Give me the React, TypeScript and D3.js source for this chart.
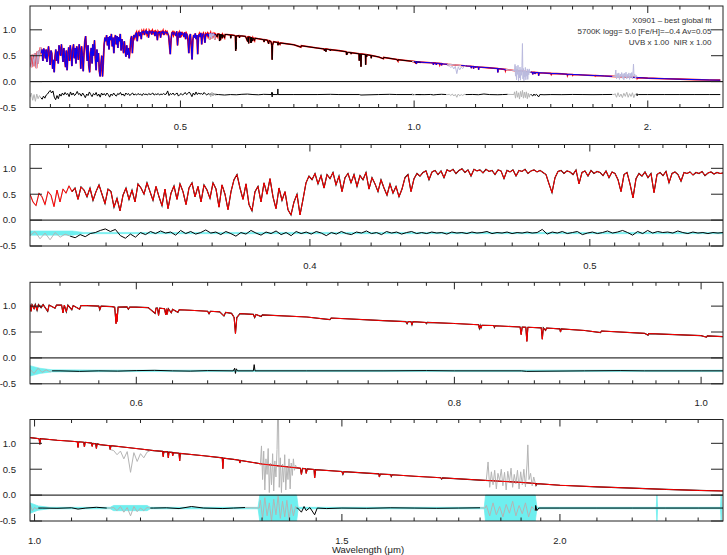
import React from 'react';
import * as d3 from 'd3';

const W = 727;
const H = 555;
const LEFT = 30;
const RIGHT = 723;
const PANEL_TOPS = [6, 144.5, 282.3, 419.5];
const PANEL_H = 101.5;
const Y_DOMAIN = [-0.5, 1.46];
const Y_TICKS = [1.0, 0.5, 0.0, -0.5];
const Y_LABELS = ['1.0', '0.5', '0.0', '-0.5'];
const RESID_ZERO = -0.25;
const FONT = 'Liberation Sans, Arial, Helvetica, sans-serif';

const RED = '#ff0000';
const BLUE = '#0000ff';
const GRAY = '#b4b4b4';
const LAVENDER = '#babade';
const CYAN = '#6eefef';

// x axes of the four panels
const p1Domain = [0.32, 2.5];
const p1Major = [0.5, 1.0, 2.0];
const p1Labels = ['0.5', '1.0', '2.'];
const p1Minor = [0.34, 0.36, 0.38, 0.40, 0.42, 0.44, 0.46, 0.48, 0.55, 0.6, 0.65, 0.7, 0.75, 0.8, 0.85, 0.9, 0.95,
  1.1, 1.2, 1.3, 1.4, 1.5, 1.6, 1.7, 1.8, 1.9, 2.2, 2.4];

const p2Domain = [0.32, 0.556];
const p2Major = [0.4, 0.5];
const p2Labels = ['0.4', '0.5'];
const p2Minor = [0.33, 0.34, 0.35, 0.36, 0.37, 0.38, 0.39, 0.41, 0.42, 0.43, 0.44, 0.45, 0.46, 0.47, 0.48, 0.49,
  0.51, 0.52, 0.53, 0.54, 0.55];

const p3Domain = [0.545, 1.02];
const p3Major = [0.6, 0.8, 1.0];
const p3Labels = ['0.6', '0.8', '1.0'];
const p3Minor = [0.56, 0.58, 0.62, 0.64, 0.66, 0.68, 0.70, 0.72, 0.74, 0.76, 0.78, 0.82, 0.84, 0.86, 0.88, 0.90,
  0.92, 0.94, 0.96, 0.98];

const p4Domain = [0.994, 2.48];
const p4Major = [1.0, 1.5, 2.0];
const p4Labels = ['1.0', '1.5', '2.0'];
const p4Minor = [1.05, 1.1, 1.15, 1.2, 1.25, 1.3, 1.35, 1.4, 1.45, 1.55, 1.6, 1.65, 1.7, 1.75, 1.8, 1.85, 1.9, 1.95,
  2.1, 2.2, 2.3, 2.4];

// UVB arm: fluxes on an even log grid from 0.32 to 0.556 um
const uvbRange = [0.32, 0.556];
const uvbFlux = [
  0.50, 0.35, 0.28, 0.52, 0.45, 0.30, 0.55, 0.48, 0.26, 0.58,
  0.35, 0.60, 0.52, 0.66, 0.55, 0.62, 0.40, 0.64, 0.58, 0.45,
  0.62, 0.38, 0.55, 0.68, 0.50, 0.32, 0.60, 0.55, 0.25, 0.42,
  0.18, 0.48, 0.62, 0.40, 0.58, 0.35, 0.70, 0.62, 0.50, 0.72,
  0.55, 0.38, 0.65, 0.45, 0.28, 0.60, 0.22, 0.52, 0.66, 0.40,
  0.70, 0.55, 0.30, 0.62, 0.72, 0.45, 0.65, 0.35, 0.68, 0.58,
  0.42, 0.72, 0.60, 0.25, 0.68, 0.50, 0.20, 0.55, 0.78, 0.88,
  0.62, 0.40, 0.70, 0.30, 0.18, 0.55, 0.65, 0.35, 0.72, 0.50,
  0.80, 0.45, 0.22, 0.62, 0.38, 0.55, 0.20, 0.10, 0.35, 0.50,
  0.10, 0.40, 0.72, 0.85, 0.78, 0.90, 0.70, 0.86, 0.62, 0.88,
  0.80, 0.92, 0.68, 0.85, 0.55, 0.82, 0.90, 0.72, 0.88, 0.65,
  0.86, 0.78, 0.92, 0.60, 0.82, 0.70, 0.55, 0.78, 0.62, 0.48,
  0.70, 0.52, 0.65, 0.45, 0.60, 0.82, 0.88, 0.55, 0.80, 0.90,
  0.85, 0.92, 0.95, 0.78, 0.93, 0.96, 0.88, 0.95, 0.82, 0.97,
  0.94, 0.98, 0.90, 0.96, 0.99, 0.92, 0.97, 0.85, 0.98, 0.95,
  0.97, 0.91, 0.98, 0.94, 0.96, 0.88, 0.97, 0.95, 0.80, 0.96,
  0.93, 0.97, 0.85, 0.96, 0.94, 0.98, 0.90, 0.95, 0.97, 0.93,
  0.96, 0.92, 0.88, 0.70, 0.53, 0.82, 0.94, 0.96, 0.90, 0.95,
  0.93, 0.88, 0.97, 0.70, 0.92, 0.95, 0.85, 0.96, 0.90, 0.94,
  0.92, 0.86, 0.95, 0.82, 0.93, 0.90, 0.78, 0.55, 0.88, 0.92,
  0.70, 0.43, 0.80, 0.90, 0.85, 0.93, 0.82, 0.90, 0.53, 0.88,
  0.92, 0.86, 0.94, 0.72, 0.90, 0.93, 0.88, 0.75, 0.92, 0.90,
  0.93, 0.87, 0.92, 0.90, 0.94, 0.86, 0.91, 0.93, 0.89, 0.92,
  0.90, 0.91,
];
const uvbResid = [
  -0.30, -0.22, -0.36, -0.25, -0.38, -0.24, -0.33, -0.27,
  -0.31, -0.34, -0.28, -0.32, -0.26, -0.24, -0.20, -0.17, -0.22, -0.18,
  -0.30, -0.35, -0.27, -0.33, -0.24, -0.28, -0.22, -0.26, -0.21, -0.25,
  -0.23, -0.29, -0.20, -0.26, -0.22, -0.27, -0.24, -0.19, -0.25, -0.23,
  -0.28, -0.22, -0.26, -0.31, -0.24, -0.27, -0.20, -0.25, -0.29, -0.23,
  -0.26, -0.21, -0.28, -0.24, -0.30, -0.22, -0.26, -0.23, -0.27, -0.22,
  -0.25, -0.30, -0.24, -0.27, -0.22, -0.26, -0.28, -0.23, -0.25, -0.21,
  -0.26, -0.24, -0.28, -0.22, -0.25, -0.23, -0.27, -0.24, -0.22, -0.26,
  -0.24, -0.26, -0.23, -0.25, -0.24, -0.27, -0.23, -0.25, -0.24, -0.26,
  -0.23, -0.25, -0.24, -0.22, -0.26, -0.24, -0.25, -0.23, -0.26, -0.24,
  -0.25, -0.23, -0.25, -0.24, -0.18, -0.27, -0.23, -0.25, -0.22, -0.26,
  -0.24, -0.22, -0.28, -0.25, -0.23, -0.26, -0.24, -0.21, -0.25, -0.23,
  -0.20, -0.24, -0.29, -0.22, -0.26, -0.20, -0.25, -0.22, -0.24, -0.23,
  -0.25, -0.21, -0.24, -0.26, -0.23, -0.25, -0.24, -0.26, -0.24, -0.25, -0.24,
];
const uvbMask = [[0.32, 0.331]];
const uvbErr = [[0.32, 0.04], [0.331, 0.04], [0.334, 0.012], [0.556, 0.012]];

// VIS arm: [wavelength um, flux]
const visSpec = [
  [0.5450, 1.03], [0.5455, 0.90], [0.5460, 1.03], [0.5470, 0.95], [0.5476, 1.03], [0.5485, 0.92], [0.5492, 1.03],
  [0.5505, 0.97], [0.5515, 1.03], [0.5538, 0.90], [0.5545, 1.02], [0.5575, 0.96], [0.5582, 1.02], [0.5608, 1.02],
  [0.5615, 0.87], [0.5622, 1.02], [0.5632, 0.89], [0.5640, 1.02], [0.5660, 0.93], [0.5667, 1.01], [0.5700, 0.94],
  [0.5707, 1.01], [0.5740, 1.01], [0.5800, 1.00], [0.5805, 0.93], [0.5812, 1.00], [0.5870, 0.99], [0.5884, 0.98],
  [0.5891, 0.66], [0.5894, 0.85], [0.5896, 0.70], [0.5902, 0.98], [0.5950, 0.985], [0.5957, 0.94], [0.5964, 0.98],
  [0.6000, 0.98], [0.6065, 0.97], [0.6103, 0.86], [0.6108, 0.96], [0.6116, 0.96], [0.6122, 0.82], [0.6128, 0.96],
  [0.6155, 0.95], [0.6162, 0.83], [0.6166, 0.95], [0.6170, 0.84], [0.6176, 0.95], [0.6193, 0.87], [0.6200, 0.94],
  [0.6230, 0.88], [0.6237, 0.93], [0.6300, 0.92], [0.6400, 0.90], [0.6408, 0.85], [0.6416, 0.90], [0.6470, 0.89],
  [0.6495, 0.81], [0.6505, 0.88], [0.6540, 0.86], [0.6555, 0.78], [0.6563, 0.47], [0.6571, 0.78], [0.6590, 0.855],
  [0.6670, 0.84], [0.6678, 0.78], [0.6686, 0.84], [0.6717, 0.80], [0.6725, 0.83], [0.7000, 0.79], [0.7148, 0.74],
  [0.7156, 0.77], [0.7500, 0.72], [0.7657, 0.70], [0.7665, 0.66], [0.7672, 0.70], [0.7692, 0.70], [0.7699, 0.64],
  [0.7706, 0.70], [0.7795, 0.685], [0.7800, 0.66], [0.7806, 0.685], [0.8000, 0.665], [0.8176, 0.64], [0.8183, 0.57],
  [0.8189, 0.63], [0.8195, 0.58], [0.8202, 0.63], [0.8290, 0.625], [0.8295, 0.59], [0.8300, 0.62], [0.8490, 0.597],
  [0.8498, 0.45], [0.8506, 0.595], [0.8534, 0.593], [0.8542, 0.32], [0.8550, 0.592], [0.8654, 0.58], [0.8662, 0.36],
  [0.8670, 0.58], [0.8688, 0.53], [0.8695, 0.577], [0.8800, 0.56], [0.8806, 0.50], [0.8812, 0.56], [0.9000, 0.53],
  [0.9131, 0.49], [0.9138, 0.52], [0.9500, 0.475], [0.9532, 0.44], [0.9538, 0.47], [1.0000, 0.43], [1.0049, 0.40],
  [1.0056, 0.425], [1.0200, 0.41],
];
const visResid = [
  [0.545, -0.22], [0.547, -0.30], [0.549, -0.20], [0.551, -0.28], [0.553, -0.23], [0.555, -0.27], [0.556, -0.25],
  [0.56, -0.25], [0.57, -0.26], [0.58, -0.25], [0.59, -0.255], [0.60, -0.245], [0.61, -0.24], [0.62, -0.25],
  [0.63, -0.255], [0.64, -0.245], [0.655, -0.25], [0.6558, -0.20], [0.6563, -0.30], [0.6568, -0.21], [0.6575, -0.25],
  [0.667, -0.25], [0.6675, -0.13], [0.668, -0.25], [0.70, -0.25], [0.75, -0.25], [0.78, -0.245], [0.80, -0.25],
  [0.85, -0.25], [0.854, -0.26], [0.90, -0.25], [0.93, -0.245], [0.95, -0.25], [1.0, -0.25], [1.02, -0.25],
];
const visMask = [[0.545, 0.556]];
const visErr = [[0.545, 0.10], [0.55, 0.05], [0.556, 0.02], [0.6, 0.014], [1.02, 0.014]];

// NIR arm: [wavelength um, flux]
const nirSpec = [
  [0.994, 1.11], [1.0, 1.10], [1.006, 1.09], [1.007, 0.98], [1.008, 1.09], [1.03, 1.06], [1.05, 1.04], [1.058, 1.03],
  [1.059, 0.92], [1.060, 1.03], [1.067, 1.02], [1.068, 0.93], [1.069, 1.02], [1.078, 1.005], [1.079, 0.94],
  [1.080, 1.0], [1.084, 0.99], [1.085, 0.90], [1.086, 0.99], [1.09, 0.975], [1.104, 0.955], [1.105, 0.88],
  [1.106, 0.955], [1.13, 0.92], [1.15, 0.89], [1.17, 0.86], [1.184, 0.845], [1.185, 0.74], [1.186, 0.84],
  [1.192, 0.835], [1.193, 0.72], [1.194, 0.83], [1.199, 0.825], [1.2, 0.76], [1.201, 0.82], [1.210, 0.81],
  [1.211, 0.66], [1.212, 0.805], [1.25, 0.76], [1.281, 0.72], [1.282, 0.51], [1.283, 0.715], [1.3, 0.69],
  [1.310, 0.675], [1.311, 0.62], [1.312, 0.67], [1.35, 0.60], [1.4, 0.54], [1.42, 0.52], [1.422, 0.40],
  [1.424, 0.515], [1.430, 0.51], [1.431, 0.42], [1.433, 0.505], [1.446, 0.495], [1.447, 0.33], [1.449, 0.49],
  [1.5, 0.455], [1.502, 0.40], [1.504, 0.453], [1.55, 0.425], [1.575, 0.41], [1.576, 0.35], [1.578, 0.408],
  [1.6, 0.395], [1.601, 0.36], [1.603, 0.393], [1.65, 0.365], [1.7, 0.34], [1.709, 0.335], [1.711, 0.31],
  [1.713, 0.333], [1.76, 0.31], [1.8, 0.29], [1.9, 0.245], [1.937, 0.225], [1.938, 0.19], [1.940, 0.222],
  [2.0, 0.19], [2.1, 0.16], [2.2, 0.135], [2.3, 0.11], [2.4, 0.09], [2.48, 0.08],
];
// telluric windows, masked from the fit
const nirTelluricJ = [
  [1.105, 0.88], [1.11, 0.86], [1.115, 0.78], [1.12, 0.85], [1.125, 0.70], [1.13, 0.84], [1.135, 0.44], [1.14, 0.82],
  [1.145, 0.65], [1.15, 0.80], [1.155, 0.72], [1.16, 0.83], [1.165, 0.86],
];
const nirTelluricH2O = [
  [1.345, 0.60], [1.347, 0.58], [1.349, 0.95], [1.351, 0.30], [1.353, 0.85], [1.355, 0.10], [1.357, 0.70],
  [1.359, 0.40], [1.361, 0.90], [1.363, 0.05], [1.365, 0.62], [1.367, 0.20], [1.369, 0.80], [1.371, 0.08],
  [1.373, 0.66], [1.375, 0.35], [1.377, 0.88], [1.379, 2.10], [1.381, 0.15], [1.383, 0.72], [1.385, 0.05],
  [1.387, 0.60], [1.389, 0.25], [1.391, 0.78], [1.393, 0.10], [1.395, 0.55], [1.397, 0.30], [1.399, 0.70],
  [1.401, 0.12], [1.403, 0.62], [1.405, 0.38], [1.407, 0.70], [1.409, 0.48], [1.411, 0.58], [1.413, 0.53],
];
const nirTelluricK = [
  [1.812, 0.28], [1.815, 0.30], [1.819, 0.64], [1.823, 0.15], [1.827, 0.45], [1.831, 0.20], [1.835, 0.48],
  [1.839, 0.12], [1.843, 0.42], [1.847, 0.28], [1.851, 0.50], [1.855, 0.18], [1.859, 0.44], [1.863, 0.10],
  [1.867, 0.46], [1.871, 0.25], [1.875, 0.52], [1.879, 0.15], [1.883, 0.40], [1.887, 0.22], [1.891, 0.48],
  [1.895, 0.12], [1.899, 0.45], [1.903, 0.20], [1.907, 0.50], [1.911, 0.16], [1.915, 0.60], [1.917, 0.97],
  [1.920, 0.30], [1.924, 0.42], [1.928, 0.18], [1.932, 0.35], [1.936, 0.23],
];
const nirResid = [
  [0.994, -0.18], [0.997, -0.30], [1.0, -0.24], [1.003, -0.27], [1.005, -0.25],
  [1.01, -0.25], [1.03, -0.255], [1.05, -0.245], [1.059, -0.27], [1.07, -0.25], [1.085, -0.235], [1.10, -0.25],
  [1.105, -0.25], [1.11, -0.24], [1.115, -0.30], [1.12, -0.22], [1.125, -0.33], [1.13, -0.24], [1.135, -0.40],
  [1.14, -0.22], [1.145, -0.32], [1.15, -0.25], [1.155, -0.30], [1.16, -0.24], [1.165, -0.25],
  [1.17, -0.25], [1.19, -0.245], [1.21, -0.26], [1.23, -0.22], [1.25, -0.25], [1.282, -0.26], [1.30, -0.25],
  [1.32, -0.24], [1.345, -0.25],
  [1.347, -0.10], [1.351, -0.45], [1.355, -0.05], [1.359, -0.40], [1.363, -0.15], [1.367, -0.50], [1.371, -0.08],
  [1.375, -0.38], [1.379, -0.02], [1.383, -0.45], [1.387, -0.12], [1.391, -0.42], [1.395, -0.10], [1.399, -0.48],
  [1.403, -0.18], [1.407, -0.40], [1.411, -0.22], [1.413, -0.25],
  [1.415, -0.25], [1.422, -0.33], [1.427, -0.22], [1.431, -0.30], [1.438, -0.24], [1.447, -0.38], [1.452, -0.25],
  [1.47, -0.26], [1.50, -0.25], [1.55, -0.255], [1.60, -0.245], [1.65, -0.25], [1.70, -0.255], [1.75, -0.25],
  [1.80, -0.245], [1.812, -0.25],
  [1.815, -0.20], [1.823, -0.40], [1.831, -0.15], [1.839, -0.38], [1.847, -0.22], [1.855, -0.42], [1.863, -0.18],
  [1.871, -0.35], [1.879, -0.12], [1.887, -0.40], [1.895, -0.20], [1.903, -0.36], [1.911, -0.15], [1.919, -0.42],
  [1.927, -0.22], [1.936, -0.30],
  [1.937, -0.20], [1.94, -0.30], [1.945, -0.25], [2.0, -0.25], [2.1, -0.25], [2.2, -0.25], [2.3, -0.25],
  [2.4, -0.25], [2.48, -0.25],
];
const nirMask = [[0.994, 1.005], [1.105, 1.165], [1.345, 1.413], [1.812, 1.936]];
const nirErr = [
  [0.994, 0.10], [1.005, 0.04], [1.02, 0.014], [1.105, 0.014], [1.11, 0.05], [1.16, 0.05], [1.165, 0.014],
  [1.343, 0.014], [1.346, 0.25], [1.413, 0.25], [1.416, 0.014], [1.81, 0.014], [1.813, 0.25], [1.936, 0.25],
  [1.94, 0.014], [2.271, 0.014], [2.273, 0.25], [2.275, 0.014], [2.472, 0.014], [2.474, 0.25], [2.476, 0.014],
  [2.48, 0.014],
];

// scale of each arm in the overview panel
const uvbNorm = 1.0;
const visNorm = 0.9;
const nirNorm = 0.35;

const annotation = ['X0901 \u2013 best global fit', '5700K logg= 5.0 [Fe/H]=\u20130.4 Av=0.05', 'UVB x 1.00  NIR x 1.00'];

const logGrid = (range, n) => d3.range(n).map(i => range[0] * Math.pow(range[1] / range[0], i / (n - 1)));
const uvbWave = logGrid(uvbRange, uvbFlux.length);
const uvbResidWave = logGrid(uvbRange, uvbResid.length);
const uvbSpec = uvbFlux.map((f, i) => [uvbWave[i], f]);
const uvbResidPts = uvbResid.map((r, i) => [uvbResidWave[i], r]);

const scaleFlux = (pts, k) => pts.map(([w, f]) => [w, f * k]);
const scaleResid = (pts, k) => pts.map(([w, r]) => [w, RESID_ZERO + (r - RESID_ZERO) * k]);

function runs(pts, masks) {
  const inMask = w => masks.some(([a, b]) => w >= a && w <= b);
  const out = [];
  let cur = null;
  pts.forEach(p => {
    const m = inMask(p[0]);
    if (!cur || cur.masked !== m) {
      const prev = cur ? cur.pts[cur.pts.length - 1] : null;
      cur = { masked: m, pts: prev ? [prev] : [] };
      out.push(cur);
    }
    cur.pts.push(p);
  });
  return out;
}

const Panel = ({ idx, domain, major, labels, minor, children }) => {
  const top = PANEL_TOPS[idx];
  const bottom = top + PANEL_H;
  const x = d3.scaleLog().domain(domain).range([LEFT, RIGHT]);
  const y = d3.scaleLinear().domain(Y_DOMAIN).range([bottom, top]);
  const line = d3.line().x(d => x(d[0])).y(d => y(d[1]));
  const band = d3.area().x(d => x(d[0])).y0(d => y(RESID_ZERO - d[1])).y1(d => y(RESID_ZERO + d[1]));
  const clipId = `clip${idx}`;
  const draw = { x, y, line, band };
  return (
    <g>
      <defs>
        <clipPath id={clipId}>
          <rect x={LEFT} y={top} width={RIGHT - LEFT} height={PANEL_H} />
        </clipPath>
      </defs>
      <g clipPath={`url(#${clipId})`}>{children(draw)}</g>
      <line x1={LEFT} x2={RIGHT} y1={y(0)} y2={y(0)} stroke="#000" strokeWidth={1} />
      <rect x={LEFT} y={top} width={RIGHT - LEFT} height={PANEL_H} fill="none" stroke="#222" strokeWidth={1} />
      {minor.map(t => (
        <g key={'m' + t}>
          <line x1={x(t)} x2={x(t)} y1={bottom} y2={bottom - 3.5} stroke="#222" />
          <line x1={x(t)} x2={x(t)} y1={top} y2={top + 3.5} stroke="#222" />
        </g>
      ))}
      {major.map((t, i) => (
        <g key={'M' + t}>
          <line x1={x(t)} x2={x(t)} y1={bottom} y2={bottom - 7} stroke="#222" />
          <line x1={x(t)} x2={x(t)} y1={top} y2={top + 7} stroke="#222" />
          <text x={x(t)} y={bottom + 22.5} textAnchor="middle" fontSize={9.5} fontFamily={FONT} fill="#222">
            {labels[i]}
          </text>
        </g>
      ))}
      {Y_TICKS.map((t, i) => (
        <g key={'y' + t}>
          <line x1={LEFT} x2={LEFT + 12} y1={y(t)} y2={y(t)} stroke="#222" />
          <line x1={RIGHT - 12} x2={RIGHT} y1={y(t)} y2={y(t)} stroke="#222" />
          <text x={16} y={y(t) + 3.3} textAnchor="end" fontSize={9.5} fontFamily={FONT} fill="#222">
            {Y_LABELS[i]}
          </text>
        </g>
      ))}
    </g>
  );
};

const ResidRuns = ({ line, pts, mask, color = '#000', maskColor = GRAY, width = 1 }) => (
  <g>
    {runs(pts, mask).map((r, i) => (
      <path key={i} d={line(r.pts)} fill="none" stroke={r.masked ? maskColor : color} strokeWidth={width} />
    ))}
  </g>
);

const App = () => {
  return (
    <svg width={W} height={H} style={{ position: 'absolute', left: 0, top: 0, background: '#fff' }}>
      <rect width={W} height={H} fill="#fff" />

      <Panel idx={0} domain={p1Domain} major={p1Major} labels={p1Labels} minor={p1Minor}>
        {({ line }) => (
          <g>
            <ResidRuns line={line} pts={scaleResid(uvbResidPts, uvbNorm)} mask={uvbMask} />
            <ResidRuns line={line} pts={scaleResid(visResid, visNorm)} mask={visMask} />
            <ResidRuns line={line} pts={scaleResid(nirResid, nirNorm)} mask={nirMask} />
            <path d={line(scaleFlux(uvbSpec, uvbNorm))} fill="none" stroke={RED} strokeWidth={1.8} />
            <path d={line(scaleFlux(visSpec, visNorm))} fill="none" stroke={RED} strokeWidth={1.6} />
            <path d={line(scaleFlux(nirSpec, nirNorm))} fill="none" stroke={RED} strokeWidth={1.6} />
            <ResidRuns line={line} pts={scaleFlux(uvbSpec, uvbNorm)} mask={uvbMask} color={BLUE} maskColor={LAVENDER} />
            <ResidRuns line={line} pts={scaleFlux(visSpec, visNorm)} mask={visMask} color="#000" maskColor={LAVENDER} />
            <ResidRuns line={line} pts={scaleFlux(nirSpec, nirNorm)} mask={nirMask} color={BLUE} maskColor={LAVENDER} />
            {[nirTelluricJ, nirTelluricH2O, nirTelluricK].map((seg, i) => (
              <path key={i} d={line(scaleFlux(seg, nirNorm))} fill="none" stroke={LAVENDER} strokeWidth={1} />
            ))}
          </g>
        )}
      </Panel>
      <g fontFamily={FONT} fontSize={8} fill="#333" textAnchor="end">
        {annotation.map((s, i) => (
          <text key={i} x={711.5} y={23 + i * 11} style={{ whiteSpace: 'pre' }}>{s}</text>
        ))}
      </g>

      <Panel idx={1} domain={p2Domain} major={p2Major} labels={p2Labels} minor={p2Minor}>
        {({ line, band }) => (
          <g>
            <path d={band(uvbErr)} fill={CYAN} stroke={CYAN} strokeWidth={0.6} />
            <ResidRuns line={line} pts={uvbResidPts} mask={uvbMask} />
            <ResidRuns line={line} pts={uvbSpec} mask={uvbMask} width={1.15} />
            <path d={line(uvbSpec)} fill="none" stroke={RED} strokeWidth={1} />
          </g>
        )}
      </Panel>

      <Panel idx={2} domain={p3Domain} major={p3Major} labels={p3Labels} minor={p3Minor}>
        {({ line, band }) => (
          <g>
            <path d={band(visErr)} fill={CYAN} stroke={CYAN} strokeWidth={0.6} />
            <ResidRuns line={line} pts={visResid} mask={visMask} />
            <path d={line(visSpec)} fill="none" stroke="#000" strokeWidth={1.15} />
            <path d={line(visSpec)} fill="none" stroke={RED} strokeWidth={1} />
          </g>
        )}
      </Panel>

      <Panel idx={3} domain={p4Domain} major={p4Major} labels={p4Labels} minor={p4Minor}>
        {({ line, band }) => (
          <g>
            <path d={band(nirErr)} fill={CYAN} stroke={CYAN} strokeWidth={0.8} />
            <ResidRuns line={line} pts={nirResid} mask={nirMask} />
            <path d={line(nirSpec)} fill="none" stroke="#000" strokeWidth={1.15} />
            {[nirTelluricJ, nirTelluricH2O, nirTelluricK].map((seg, i) => (
              <path key={i} d={line(seg)} fill="none" stroke={GRAY} strokeWidth={1} />
            ))}
            <path d={line(nirSpec)} fill="none" stroke={RED} strokeWidth={1} />
          </g>
        )}
      </Panel>

      <text x={368} y={553} textAnchor="middle" fontSize={9.5} fontFamily={FONT} fill="#222">
        Wavelength ({'\u03bc'}m)
      </text>
    </svg>
  );
};

export default App;
